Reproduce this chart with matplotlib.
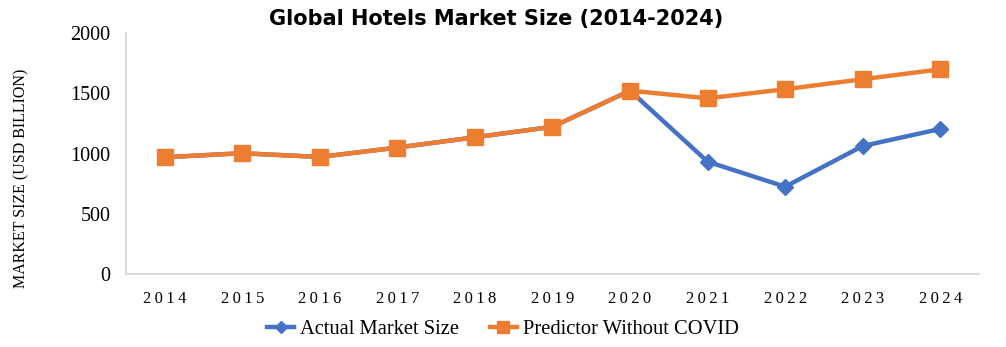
import matplotlib
matplotlib.use("Agg")
import matplotlib.pyplot as plt
import numpy as np

years = ["2014", "2015", "2016", "2017", "2018", "2019", "2020",
         "2021", "2022", "2023", "2024"]
actual = [971, 1004, 973, 1051, 1136, 1223, 1522, 934, 727, 1064, 1205]
predicted = [971, 1004, 973, 1051, 1136, 1223, 1522, 1459, 1534, 1617, 1699]

blue = "#4472C4"
orange = "#ED7D31"
serif = ["Liberation Serif", "DejaVu Serif"]

fig = plt.figure(figsize=(10.06, 3.47), dpi=100)
ax = fig.add_axes([0.1252, 0.209, 0.848, 0.696])

x = np.arange(len(years))
ax.plot(x, actual, color=blue, lw=3.2, marker="D", ms=8,
        label="Actual Market Size", solid_joinstyle="round", zorder=3)
ax.plot(x, predicted, color=orange, lw=3.2, marker="s", ms=11,
        label="Predictor Without COVID", solid_joinstyle="round", zorder=4)

ax.set_xlim(-0.5, len(years) - 0.5)
ax.set_ylim(0, 2000)
ax.set_yticks([0, 500, 1000, 1500, 2000])
ax.set_xticks(x)
spaced = ["\u2009".join(y) for y in years]
ax.set_xticklabels(spaced, family=serif, fontsize=12)
for lab in ax.get_yticklabels():
    lab.set_family(serif)
    lab.set_fontsize(14.5)
ax.tick_params(axis="both", length=0, colors="#000000")
ax.tick_params(axis="y", pad=11)
ax.tick_params(axis="x", pad=12)

for side in ("top", "right"):
    ax.spines[side].set_visible(False)
for side in ("left", "bottom"):
    ax.spines[side].set_color("#D9D9D9")
    ax.spines[side].set_linewidth(1.3)

ax.set_ylabel("MARKET SIZE (USD BILLION)", family=serif, fontsize=11.5)
ax.yaxis.set_label_coords(-0.113, 0.40)

fig.text(0.493, 0.945, "Global Hotels Market Size (2014-2024)",
         ha="center", va="center", fontsize=15, fontweight="bold",
         family=["DejaVu Sans"])

leg = fig.legend(loc="center", bbox_to_anchor=(0.5, 0.05), ncol=2,
                 frameon=False, prop={"family": serif, "size": 14.8},
                 handlelength=1.3, columnspacing=1.5, handletextpad=0.3,
                 markerscale=0.75)

fig.savefig("out.png", dpi=100)
